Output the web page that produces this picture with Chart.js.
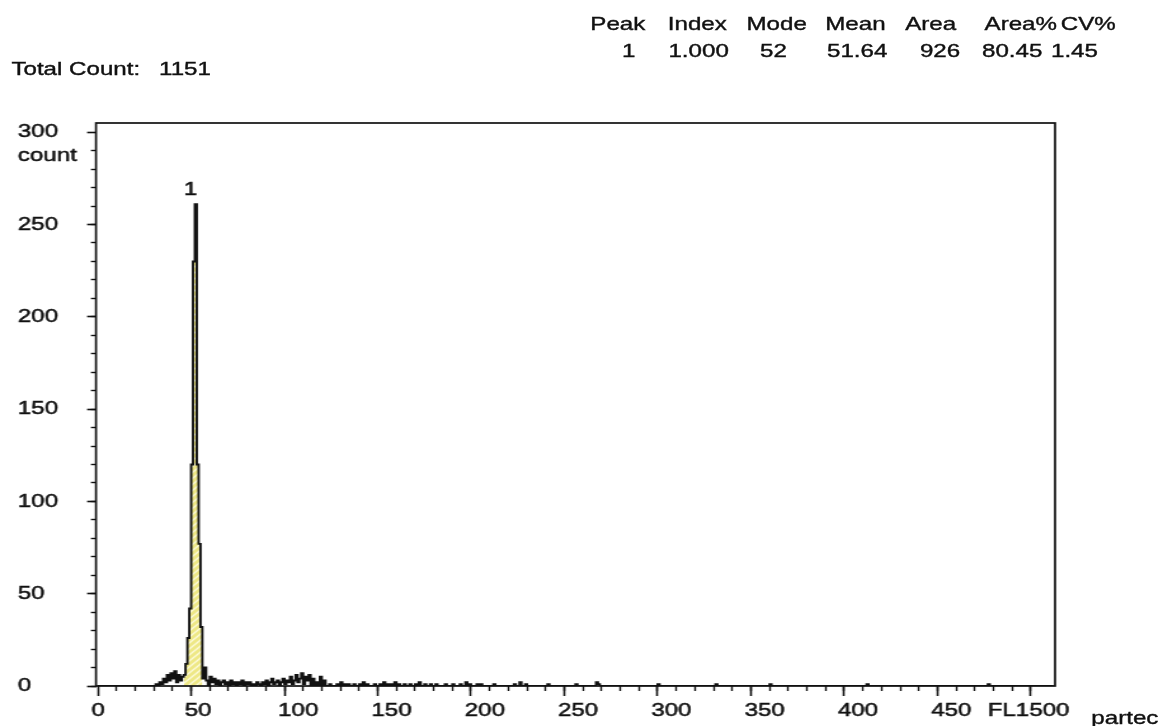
<!DOCTYPE html>
<html>
<head>
<meta charset="utf-8">
<title>FL1 histogram</title>
<script src="https://cdn.jsdelivr.net/npm/chart.js@4.4.1/dist/chart.umd.min.js"></script>
<style>
  html, body { margin: 0; padding: 0; background: #fff; overflow: hidden; }
  /* the instrument printout is stretched sideways, so draw narrow and scale */
  #wrap {
    position: absolute; left: 0; top: 0; width: 920px; height: 726px;
    transform: scaleX(1.2696); transform-origin: 0 0;
    font-family: 'Liberation Sans', Arial, sans-serif; font-size: 19px; color: #111;
  }
  .t { position: absolute; line-height: 19px; white-space: pre; -webkit-text-stroke: 0.4px #111; }
  #hist { position: absolute; left: 0; top: 0; }
</style>
</head>
<body>
<div id="wrap">
  <canvas id="hist" width="920" height="726" style="width:920px;height:726px"></canvas>
</div>

<script>
// ── data ──────────────────────────────────────────
var totalCount = 1151;
var statHeads  = ['Peak', 'Index', 'Mode', 'Mean', 'Area', 'Area%', 'CV%'];
var statValues = ['1', '1.000', '52', '51.64', '926', '80.45', '1.45'];

var xTickValues = [0, 50, 100, 150, 200, 250, 300, 350, 400, 450, 500];
var xTickLabels = ['0', '50', '100', '150', '200', '250', '300', '350', '400', '450', 'FL1500'];
var yTickValues = [0, 50, 100, 150, 200, 250, 300];
var yTickLabels = ['0', '50', '100', '150', '200', '250', '300'];
var yUnit = 'count';
var brand = 'partec';

var nChannels = 512;
var lowFrom = 31;            // channel of lowCounts[0]
var lowCounts = [
  1, 0, 2, 1, 4, 2, 6, 3, 7, 4, 8, 2, 6, 3, 5,                      // 31-45
  6, 12, 26, 42, 120, 230, 261, 120, 77, 32,                        // 46-55 (peak 1)
  4, 10, 3, 0, 5, 2, 4, 1, 3, 0, 2, 3, 1, 2, 0, 3, 1, 2, 0, 2,      // 56-75
  1, 3, 0, 2, 1, 2, 0, 1, 0, 2, 1, 0, 2, 1, 3, 0, 2, 4, 1, 2,       // 76-95
  3, 0, 2, 4, 1, 3, 2, 5, 1, 3, 6, 2, 4, 7, 1, 5, 3, 6, 0, 4,       // 96-115
  0, 2, 0, 5, 0, 3, 0, 0, 1, 0                                      // 116-125
];
var sparseChannels = [128, 130, 132, 134, 137, 140, 142, 144, 148, 151, 153, 155, 157, 159, 161,
                      164, 167, 170, 172, 175, 178, 181, 186, 190, 194, 197, 199, 203, 205, 212,
                      223, 226, 229, 241, 256, 267, 268, 300, 331, 360, 412, 477];
var sparseCounts   = [1, 2, 1, 1, 1, 1, 2, 1, 1, 1, 2, 1, 1, 2, 1,
                      1, 1, 1, 2, 1, 1, 1, 1, 1, 1, 2, 1, 1, 1, 1,
                      1, 2, 1, 1, 1, 2, 1, 1, 1, 1, 1, 1];

var gateFrom = 46, gateTo = 55;   // region of peak 1
var peakLabel = '1';
var peakChannel = 52;

// ── helpers ───────────────────────────────────────
var FAMILY = "'Liberation Sans', Arial, sans-serif";
var FONT = '19px ' + FAMILY;
var INK  = '#111';

var counts = new Array(nChannels).fill(0);
lowCounts.forEach(function (v, i) { counts[lowFrom + i] = v; });
sparseChannels.forEach(function (c, i) { counts[c] = sparseCounts[i]; });

var histPts = counts.map(function (v, c) { return { x: c, y: v }; });
histPts.push({ x: nChannels, y: 0 });

var gatePts = [];
for (var c = gateFrom; c <= gateTo; c++) gatePts.push({ x: c, y: counts[c] });
gatePts.push({ x: gateTo + 1, y: 0 });

function hatch() {
  var cv = document.createElement('canvas');
  cv.width = 6; cv.height = 6;
  var g = cv.getContext('2d');
  g.fillStyle = '#eee886'; g.fillRect(0, 0, 6, 6);
  g.strokeStyle = '#fcfad8'; g.lineWidth = 1.4;
  g.beginPath();
  g.moveTo(0, 6); g.lineTo(6, 0);
  g.moveTo(-3, 3); g.lineTo(3, -3);
  g.moveTo(3, 9); g.lineTo(9, 3);
  g.stroke();
  return g.createPattern(cv, 'repeat');
}

function text(str, left, top) {
  var d = document.createElement('div');
  d.className = 't';
  d.style.left = left + 'px';
  d.style.top = top + 'px';
  d.textContent = str;
  document.getElementById('wrap').appendChild(d);
}

// header block
var headX = [465, 526, 588, 650, 713, 775.5, 835.5];
var valX  = [490, 526.5, 598.6, 651.4, 724.6, 773.5, 827.8];
statHeads.forEach(function (h, i) { text(h, headX[i], 14); });
statValues.forEach(function (v, i) { text(v, valX[i], 41); });
text('Total Count:', 9, 59);
text(String(totalCount), 125.3, 59);
text(brand, 859.6, 708);

function label(ctx, str, x, y) {
  ctx.fillText(str, x, y);
  ctx.strokeText(str, x, y);
}

// frame + loose labels
var framePlugin = {
  id: 'frame',
  afterDraw: function (chart) {
    var ctx = chart.ctx, a = chart.chartArea;
    var xs = chart.scales.x, ys = chart.scales.y;
    var last = xTickValues.length - 1;
    ctx.save();
    ctx.strokeStyle = INK; ctx.lineWidth = 1.7;
    ctx.strokeRect(a.left, a.top, a.right - a.left, a.bottom - a.top);

    ctx.fillStyle = INK; ctx.font = FONT; ctx.lineWidth = 0.5;
    ctx.textAlign = 'left'; ctx.textBaseline = 'alphabetic';
    label(ctx, yUnit, ys.left, ys.getPixelForValue(yTickValues[yTickValues.length - 1]) + 28.5);

    ctx.textBaseline = 'middle';
    label(ctx, xTickLabels[last], xs.getPixelForValue(xTickValues[last]) - 34, xs.top + 10 + 3 + 11.4);

    ctx.textAlign = 'center'; ctx.textBaseline = 'alphabetic';
    label(ctx, peakLabel, xs.getPixelForValue(peakChannel) - 3.5, ys.getPixelForValue(counts[peakChannel]) - 9);
    ctx.restore();
  }
};

function tickScale(pos, vals, lenMajor) {
  return {
    type: 'linear', position: pos, weight: 1,
    grid: { drawOnChartArea: false, drawTicks: true, tickLength: lenMajor, tickColor: INK, tickWidth: 1.6 },
    border: { display: false },
    afterBuildTicks: function (s) { s.ticks = vals.map(function (v) { return { value: v }; }); }
  };
}

function minorScale(pos, step, top) {
  return {
    type: 'linear', position: pos, weight: 0,
    grid: { drawOnChartArea: false, drawTicks: true, tickLength: 5, tickColor: INK, tickWidth: 1.4 },
    border: { display: false },
    ticks: { display: false, stepSize: step },
    afterBuildTicks: function (s) { s.ticks = s.ticks.filter(function (t) { return t.value >= 0 && t.value <= top; }); },
    afterFit: function (s) { if (pos === 'bottom') s.height = 0; else s.width = 0; }
  };
}

var X_MIN = -1, X_MAX = 513, Y_MAX = 305;

var sx = tickScale('bottom', xTickValues, 10);
sx.min = X_MIN; sx.max = X_MAX;
sx.ticks = {
  autoSkip: false, maxRotation: 0, align: 'start', labelOffset: -5, padding: 3,
  color: INK, font: { family: FAMILY, size: 19 }, textStrokeColor: INK, textStrokeWidth: 0.5,
  callback: function (v, i) { return i === xTickLabels.length - 1 ? '' : xTickLabels[i]; }
};
sx.afterFit = function (s) { s.height = 40; };

var sy = tickScale('left', yTickValues, 7);
sy.min = 0; sy.max = Y_MAX;
sy.ticks = {
  autoSkip: false, crossAlign: 'far', padding: 2,
  color: INK, font: { family: FAMILY, size: 19 }, textStrokeColor: INK, textStrokeWidth: 0.5,
  callback: function (v, i) { return yTickLabels[i]; }
};
sy.afterFit = function (s) { s.width = 61.6; };

var sxm = minorScale('bottom', 10, xTickValues[xTickValues.length - 1]);
sxm.min = X_MIN; sxm.max = X_MAX;
var sym = minorScale('left', 10, yTickValues[yTickValues.length - 1]);
sym.min = 0; sym.max = Y_MAX; sym.grid.tickLength = 4;

new Chart(document.getElementById('hist').getContext('2d'), {
  type: 'line',
  data: {
    datasets: [{
      data: histPts,
      stepped: true,
      borderColor: INK,
      borderWidth: 1.9,
      pointRadius: 0,
      fill: false,
      order: 0
    }, {
      data: gatePts,
      stepped: true,
      borderWidth: 0,
      pointRadius: 0,
      backgroundColor: hatch(),
      fill: 'origin',
      order: 1
    }]
  },
  options: {
    responsive: false,
    devicePixelRatio: 1,
    animation: false,
    events: [],
    layout: { padding: { left: 14, right: 89, top: 123, bottom: 0 } },
    plugins: { legend: { display: false }, tooltip: { enabled: false } },
    scales: { x: sx, y: sy, xMinor: sxm, yMinor: sym }
  },
  plugins: [framePlugin]
});
</script>
</body>
</html>
